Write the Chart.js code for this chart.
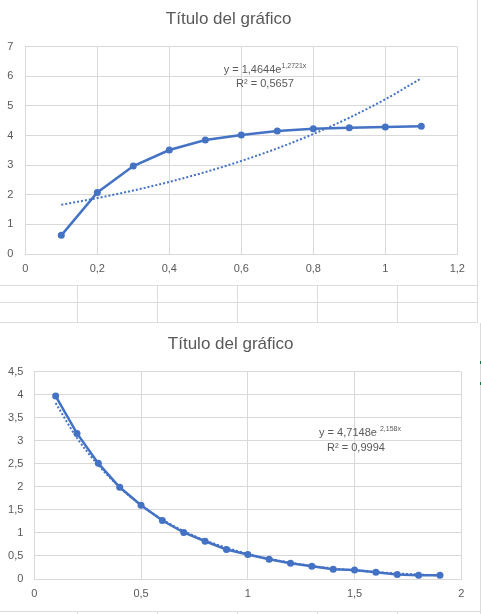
<!DOCTYPE html>
<html>
<head>
<meta charset="utf-8">
<script src="https://cdn.jsdelivr.net/npm/chart.js@4.4.1/dist/chart.umd.min.js"></script>
<style>
  html, body { margin: 0; padding: 0; background: #ffffff; }
  body { width: 481px; height: 614px; position: relative; overflow: hidden; }
  .vl { position: absolute; width: 1px; background: #dcdcdc; }
  .hl { position: absolute; height: 1px; background: #dcdcdc; }
  .box { position: absolute; background: #ffffff; }
  .mark { position: absolute; width: 1px; height: 3px; background: #217346; }
  canvas { display: block; }
</style>
</head>
<body>
<!-- spreadsheet cell grid behind the charts -->
<div class="vl" style="left:77px;top:0;height:614px"></div>
<div class="vl" style="left:157px;top:0;height:614px"></div>
<div class="vl" style="left:237px;top:0;height:614px"></div>
<div class="vl" style="left:317px;top:0;height:614px"></div>
<div class="vl" style="left:397px;top:0;height:614px"></div>
<div class="vl" style="left:477px;top:0;height:323px"></div>
<div class="vl" style="left:480px;top:323px;height:291px"></div>
<div class="hl" style="left:0;top:285px;width:478px"></div>
<div class="hl" style="left:0;top:302px;width:478px"></div>
<div class="hl" style="left:0;top:322px;width:478px"></div>
<div class="hl" style="left:0;top:611px;width:480px"></div>
<div class="mark" style="left:480px;top:361px"></div>
<div class="mark" style="left:480px;top:382px"></div>

<div class="box" style="left:0;top:0;width:477px;height:285px">
  <canvas id="c1" width="477" height="285"></canvas>
</div>
<div class="box" style="left:0;top:323px;width:479px;height:288px">
  <canvas id="c2" width="479" height="288"></canvas>
</div>

<script>
// ---------- data ----------
const titleText = 'Título del gráfico';

const xTop = [0.1, 0.2, 0.3, 0.4, 0.5, 0.6, 0.7, 0.8, 0.9, 1.0, 1.1];
const yTop = [0.63, 2.08, 2.97, 3.51, 3.85, 4.02, 4.15, 4.23, 4.26, 4.29, 4.31];
const trendTop = [1.663, 1.889, 2.145, 2.436, 2.766, 3.142, 3.568, 4.052, 4.601, 5.225, 5.934];
const xTicksTop = ['0', '0,2', '0,4', '0,6', '0,8', '1', '1,2'];
const yTicksTop = ['0', '1', '2', '3', '4', '5', '6', '7'];
const eqTop = ['y = 1,4644e', '1,2721x', 'R² = 0,5657'];

const xBot = [0.1, 0.2, 0.3, 0.4, 0.5, 0.6, 0.7, 0.8, 0.9, 1.0, 1.1, 1.2, 1.3, 1.4, 1.5, 1.6, 1.7, 1.8, 1.9];
const yBot = [3.97, 3.16, 2.51, 1.99, 1.60, 1.27, 1.01, 0.82, 0.64, 0.53, 0.43, 0.34, 0.275, 0.21, 0.195, 0.145, 0.10, 0.08, 0.08];
const trendBot = [3.82, 3.06, 2.47, 1.99, 1.60, 1.29, 1.04, 0.84, 0.68, 0.545, 0.44, 0.354, 0.285, 0.23, 0.185, 0.149, 0.12, 0.097, 0.078];
const xTicksBot = ['0', '0,5', '1', '1,5', '2'];
const yTicksBot = ['0', '0,5', '1', '1,5', '2', '2,5', '3', '3,5', '4', '4,5'];
const eqBot = ['y = 4,7148e ', '2,158x', 'R² = 0,9994'];

// ---------- styling ----------
const FONT = "'Liberation Sans', Arial, sans-serif";
const TXT = '#595959';
const GRID = '#d9d9d9';
const BLUE = '#4472C4';
Chart.defaults.font.family = FONT;
Chart.defaults.color = TXT;

function pts(xs, ys) { return xs.map((x, i) => ({ x: x, y: ys[i] })); }

function eqPlugin(lines, cfg) {
  return {
    id: 'eq',
    afterDraw(chart) {
      const ctx = chart.ctx;
      ctx.save();
      ctx.fillStyle = TXT;
      ctx.textBaseline = 'middle';
      ctx.textAlign = 'left';
      ctx.font = '11px ' + FONT;
      const w1 = ctx.measureText(lines[0]).width;
      ctx.font = '7px ' + FONT;
      const w2 = ctx.measureText(lines[1]).width;
      let x0 = cfg.cx1 - (w1 + w2) / 2;
      ctx.font = '11px ' + FONT;
      ctx.fillText(lines[0], x0, cfg.y1);
      ctx.font = '7px ' + FONT;
      ctx.fillText(lines[1], x0 + w1, cfg.y1 - 3.5);
      ctx.font = '11px ' + FONT;
      ctx.textAlign = 'center';
      ctx.fillText(lines[2], cfg.cx2, cfg.y2);
      ctx.restore();
    }
  };
}

function makeChart(id, o) {
  return new Chart(document.getElementById(id), {
    type: 'scatter',
    data: {
      datasets: [
        {
          data: pts(o.xs, o.trend),
          showLine: true,
          borderColor: BLUE,
          borderWidth: 2,
          borderDash: [2, 2],
          pointRadius: 0,
          cubicInterpolationMode: 'monotone',
          order: 0
        },
        {
          data: pts(o.xs, o.ys),
          showLine: true,
          borderColor: BLUE,
          backgroundColor: BLUE,
          borderWidth: 2.5,
          pointRadius: 3.5,
          pointBorderWidth: 0,
          pointBackgroundColor: BLUE,
          order: 1
        }
      ]
    },
    options: {
      responsive: false,
      animation: false,
      layout: { padding: { left: 0, top: 0, bottom: 0, right: o.padRight } },
      plugins: {
        legend: { display: false },
        tooltip: { enabled: false },
        title: {
          display: true,
          text: titleText,
          color: TXT,
          font: { family: FONT, size: 17, weight: 'normal', lineHeight: 1.2 },
          padding: { top: o.titleTop, bottom: o.titleBottom }
        }
      },
      scales: {
        x: {
          type: 'linear',
          min: 0, max: o.xMax,
          ticks: {
            stepSize: o.xStep, color: TXT, padding: 8,
            font: { size: 11 },
            callback: (v, i) => o.xLabels[i]
          },
          grid: { color: GRID, drawTicks: false },
          border: { color: GRID },
          afterFit: (s) => { s.height = o.xHeight; }
        },
        y: {
          type: 'linear',
          min: 0, max: o.yMax,
          ticks: {
            stepSize: o.yStep, color: TXT, padding: o.yPad,
            font: { size: 11 },
            callback: (v, i) => o.yLabels[i]
          },
          grid: { color: GRID, drawTicks: false },
          border: { color: GRID },
          afterFit: (s) => { s.width = o.yWidth; }
        }
      }
    },
    plugins: [eqPlugin(o.eq, o.eqPos)]
  });
}

makeChart('c1', {
  xs: xTop, ys: yTop, trend: trendTop,
  xMax: 1.2, xStep: 0.2, xLabels: xTicksTop,
  yMax: 7, yStep: 1, yLabels: yTicksTop,
  padRight: 19.7, titleTop: 8.8, titleBottom: 17.5,
  xHeight: 31, yWidth: 25.3, yPad: 12,
  eq: eqTop, eqPos: { cx1: 265, y1: 70, cx2: 265, y2: 84 }
});

makeChart('c2', {
  xs: xBot, ys: yBot, trend: trendBot,
  xMax: 2, xStep: 0.5, xLabels: xTicksBot,
  yMax: 4.5, yStep: 0.5, yLabels: yTicksBot,
  padRight: 17.7, titleTop: 10.8, titleBottom: 17.5,
  xHeight: 32, yWidth: 34.3, yPad: 11,
  eq: eqBot, eqPos: { cx1: 360, y1: 110, cx2: 356, y2: 124.5 }
});
</script>
</body>
</html>
